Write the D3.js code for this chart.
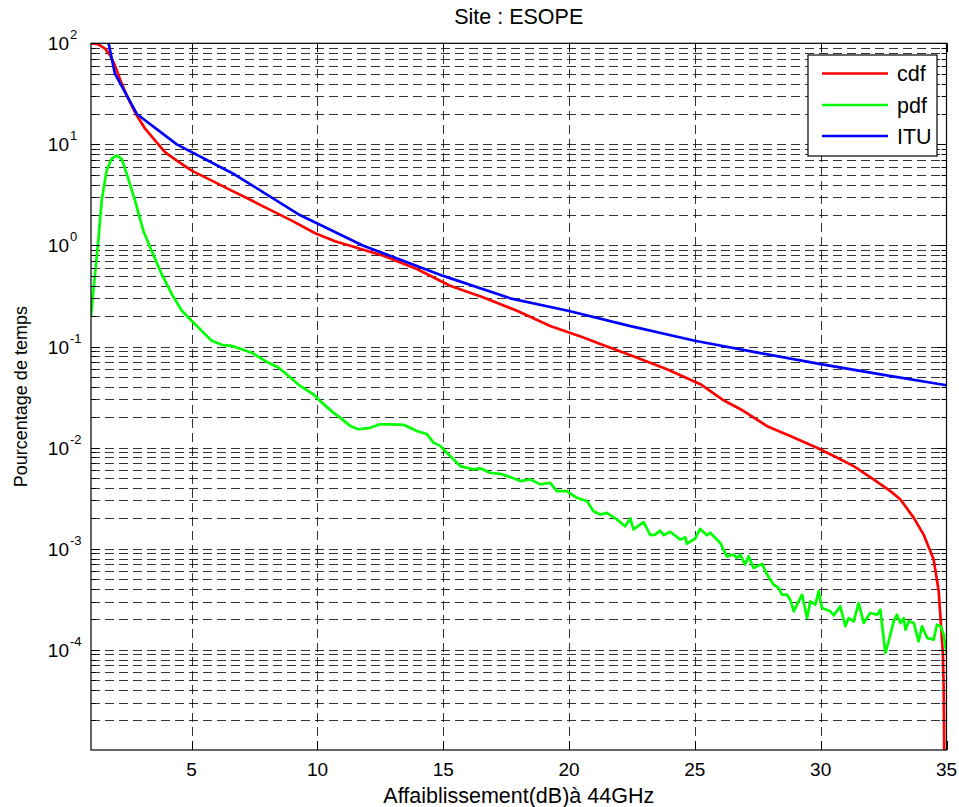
<!DOCTYPE html>
<html>
<head>
<meta charset="utf-8">
<script src="https://cdn.jsdelivr.net/npm/d3@7"></script>
<style>
  body { margin: 0; background: #fff; }
  svg { display: block; }
  text { font-family: "Liberation Sans", Arial, Helvetica, sans-serif; fill: #000; }
</style>
</head>
<body>
<svg id="chart" width="959" height="807"></svg>
<script>
// ---------- data ----------
const seriesNames = ["cdf", "pdf", "ITU"];
const seriesColors = ["#ff0000", "#00ff00", "#0000ff"];

const cdfX = [1.0, 1.29, 1.56, 1.76, 1.95, 2.22, 2.48, 2.82, 3.15, 3.55, 3.94, 4.41, 5.0, 5.8, 6.59, 7.39, 8.18, 8.98, 9.91, 10.7, 11.3, 12.62, 13.95, 15.27, 16.6, 17.93, 19.25, 20.57, 21.24, 22.5, 23.89, 25.22, 26.14, 26.94, 27.87, 28.79, 29.85, 30.52, 31.31, 32.1, 32.77, 33.17, 33.7, 34.09, 34.49, 34.69, 34.78, 34.86, 34.89, 34.91, 34.92];
const cdfY = [100, 97.8, 88.6, 76, 60.5, 39.9, 28.3, 19.3, 14.3, 10.9, 8.4, 6.92, 5.5, 4.38, 3.49, 2.78, 2.21, 1.76, 1.32, 1.10, 0.995, 0.79, 0.585, 0.40, 0.306, 0.226, 0.160, 0.123, 0.106, 0.081, 0.0597, 0.0424, 0.0294, 0.0230, 0.0163, 0.0130, 0.00997, 0.00825, 0.00656, 0.00485, 0.00371, 0.00307, 0.00202, 0.00138, 7.8e-4, 3.8e-4, 1.77e-4, 8.9e-5, 3.9e-5, 1e-5, 1e-6];

const pdfX = [1.0, 1.16, 1.29, 1.425, 1.62, 1.82, 2.02, 2.22, 2.42, 2.75, 3.08, 3.41, 3.81, 4.21, 4.61, 5.0, 5.40, 5.80, 6.20, 6.59, 6.99, 7.39, 7.92, 8.45, 8.9, 9.31, 9.84, 10.10, 10.63, 10.90, 11.30, 11.63, 12.09, 12.49, 12.89, 13.42, 13.68, 13.95, 14.35, 14.61, 14.88, 15.14, 15.41, 15.67, 16.20, 16.47, 16.86, 17.26, 17.66, 18.06, 18.46, 18.85, 19.25, 19.52, 19.91, 20.31, 20.71, 20.97, 21.24, 21.50, 21.90, 22.23, 22.43, 22.56, 22.96, 23.23, 23.42, 23.62, 23.76, 24.02, 24.42, 24.62, 24.68, 25.01, 25.21, 25.48, 25.61, 26.01, 26.27, 26.54, 26.67, 26.80, 27.00, 27.14, 27.33, 27.67, 27.87, 28.13, 28.33, 28.46, 28.66, 28.79, 28.93, 29.06, 29.26, 29.46, 29.59, 29.79, 29.92, 30.05, 30.38, 30.52, 30.78, 30.98, 31.11, 31.31, 31.51, 31.71, 31.97, 32.24, 32.37, 32.57, 32.70, 32.90, 33.03, 33.17, 33.30, 33.37, 33.50, 33.70, 33.89, 34.03, 34.23, 34.49, 34.62, 34.76, 34.89, 35.0];
const pdfY = [0.20, 0.52, 1.12, 2.78, 5.5, 7.2, 7.77, 7.2, 5.1, 2.78, 1.40, 0.887, 0.52, 0.33, 0.226, 0.18, 0.143, 0.114, 0.104, 0.1016, 0.094, 0.087, 0.072, 0.062, 0.05, 0.0408, 0.0337, 0.029, 0.0222, 0.0198, 0.0164, 0.0152, 0.0157, 0.0170, 0.0170, 0.0168, 0.0157, 0.0146, 0.0136, 0.0112, 0.0104, 0.0089, 0.00765, 0.00657, 0.0061, 0.00624, 0.00564, 0.00551, 0.00511, 0.00467, 0.00485, 0.00433, 0.00449, 0.00371, 0.00371, 0.00319, 0.00296, 0.00235, 0.00218, 0.00226, 0.00195, 0.00167, 0.00199, 0.00155, 0.00183, 0.00136, 0.00138, 0.00151, 0.00136, 0.00147, 0.00123, 0.0013, 0.00112, 0.00126, 0.00157, 0.00136, 0.00144, 0.00114, 8.4e-4, 8.75e-4, 8.1e-4, 8.75e-4, 6.97e-4, 8.4e-4, 6.45e-4, 7.08e-4, 5.55e-4, 4.41e-4, 4.09e-4, 3.51e-4, 3.51e-4, 3.13e-4, 2.40e-4, 2.80e-4, 3.51e-4, 2.06e-4, 3.02e-4, 2.80e-4, 3.80e-4, 2.59e-4, 2.40e-4, 2.19e-4, 2.69e-4, 1.71e-4, 2.06e-4, 1.91e-4, 2.90e-4, 1.84e-4, 2.31e-4, 2.22e-4, 2.49e-4, 9.3e-5, 1.21e-4, 1.91e-4, 2.22e-4, 1.84e-4, 2.06e-4, 1.58e-4, 1.91e-4, 1.84e-4, 1.21e-4, 1.71e-4, 1.31e-4, 1.26e-4, 1.77e-4, 1.71e-4, 1.41e-4, 9.2e-5];

const ituX = [1.70, 1.95, 2.82, 4.41, 6.73, 9.3, 11.8, 15.0, 17.66, 20.0, 22.4, 25.0, 27.5, 30.0, 32.5, 35.0];
const ituY = [100, 50, 20, 10, 5, 2, 1, 0.5, 0.3, 0.225, 0.16, 0.114, 0.087, 0.067, 0.0525, 0.0414];

const xTicks = [5, 10, 15, 20, 25, 30, 35];
const yExponents = [-4, -3, -2, -1, 0, 1, 2];

const titleText = "Site : ESOPE";
const xLabelText = "Affaiblissement(dB)à 44GHz";
const yLabelText = "Pourcentage de temps";

// ---------- layout ----------
const L = 91, R = 946.5, T = 43.3, B = 750;
const FS = 19;     // tick labels
const FL = 21.5;   // title, x label, legend
const FY = 18;     // y label

const x = d3.scaleLinear().domain([1, 35]).range([L, R]);
const y = d3.scaleLog().domain([1.02e-5, 100]).range([B, T]);

const svg = d3.select("#chart");

svg.append("defs").append("clipPath").attr("id", "clip")
  .append("rect").attr("x", L).attr("y", T).attr("width", R - L).attr("height", B - T);

svg.append("rect").attr("x", L).attr("y", T).attr("width", R - L).attr("height", B - T).attr("fill", "#fff");

// grid values
const minorY = [];
for (let e = -5; e <= 1; e++) {
  for (let m = 1; m <= 9; m++) {
    const v = m * Math.pow(10, e);
    if (v >= y.domain()[0] && v <= 100) minorY.push(v);
  }
}
minorY.push(100);

const grid = svg.append("g").attr("stroke", "#000").attr("stroke-opacity", 0.8)
  .attr("stroke-width", 1).attr("stroke-dasharray", "9,5").attr("fill", "none");

grid.selectAll("line.gy").data(minorY.filter(v => v < 100 && v > y.domain()[0])).enter().append("line")
  .attr("x1", L).attr("x2", R)
  .attr("y1", d => Math.round(y(d)) + 0.5).attr("y2", d => Math.round(y(d)) + 0.5);

grid.selectAll("line.gx").data(xTicks.filter(v => v < 35)).enter().append("line")
  .attr("y1", B).attr("y2", T)
  .attr("x1", d => Math.round(x(d)) + 0.5).attr("x2", d => Math.round(x(d)) + 0.5);

// curves
const line = d3.line().x(d => x(d[0])).y(d => y(d[1]));
const seriesData = [
  d3.zip(cdfX, cdfY),
  d3.zip(pdfX, pdfY),
  d3.zip(ituX, ituY)
];
const plot = svg.append("g").attr("clip-path", "url(#clip)");
seriesData.forEach((pts, i) => {
  plot.append("path").datum(pts).attr("d", line)
    .attr("fill", "none").attr("stroke", seriesColors[i])
    .attr("stroke-width", 2.7).attr("stroke-linejoin", "round");
});

// axes (ticks inside)
const axG = svg.append("g").attr("stroke", "#000").attr("stroke-width", 1);
xTicks.forEach(v => {
  const px = Math.round(x(v)) + 0.5;
  axG.append("line").attr("x1", px).attr("x2", px).attr("y1", B).attr("y2", B - 9);
  axG.append("line").attr("x1", px).attr("x2", px).attr("y1", T).attr("y2", T + 9);
});
minorY.forEach(v => {
  const py = Math.round(y(v)) + 0.5;
  const major = Math.abs(Math.log10(v) - Math.round(Math.log10(v))) < 1e-9;
  const len = major ? 9 : 5;
  axG.append("line").attr("x1", L).attr("x2", L + len).attr("y1", py).attr("y2", py);
  axG.append("line").attr("x1", R).attr("x2", R - len).attr("y1", py).attr("y2", py);
});
svg.append("rect").attr("x", L).attr("y", T).attr("width", R - L).attr("height", B - T)
  .attr("fill", "none").attr("stroke", "#000").attr("stroke-width", 1.2);

// tick labels
svg.append("g").selectAll("text").data(xTicks).enter().append("text")
  .attr("x", d => x(d)).attr("y", 776)
  .attr("text-anchor", "middle").attr("font-size", FS)
  .text(d => d);

const yl = svg.append("g");
yExponents.forEach(e => {
  const py = y(Math.pow(10, e));
  yl.append("text").attr("x", 69).attr("y", py + 7)
    .attr("text-anchor", "end").attr("font-size", FS).text("10");
  yl.append("text").attr("x", 70).attr("y", py - 4)
    .attr("text-anchor", "start").attr("font-size", 13).text(String(e));
});

// title and axis labels
svg.append("text").attr("x", (L + R) / 2).attr("y", 24)
  .attr("text-anchor", "middle").attr("font-size", FL).text(titleText);
svg.append("text").attr("x", (L + R) / 2).attr("y", 803)
  .attr("text-anchor", "middle").attr("font-size", FL).text(xLabelText);
svg.append("text").attr("transform", `translate(27,${(T + B) / 2}) rotate(-90)`)
  .attr("text-anchor", "middle").attr("font-size", FY).text(yLabelText);

// legend
const lg = svg.append("g");
lg.append("rect").attr("x", 808).attr("y", 55).attr("width", 129).attr("height", 101)
  .attr("fill", "#fff").attr("stroke", "#000").attr("stroke-width", 1.2);
const legendY = [73.5, 105, 136];
seriesNames.forEach((n, i) => {
  lg.append("line").attr("x1", 822).attr("x2", 888).attr("y1", legendY[i]).attr("y2", legendY[i])
    .attr("stroke", seriesColors[i]).attr("stroke-width", 2.7);
  lg.append("text").attr("x", 897).attr("y", legendY[i] + 7.5).attr("font-size", FL).text(n);
});
</script>
</body>
</html>
